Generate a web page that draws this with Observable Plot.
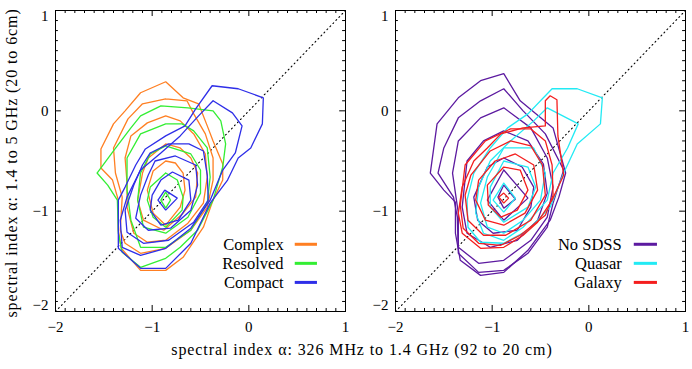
<!DOCTYPE html>
<html><head><meta charset="utf-8">
<script src="https://cdn.jsdelivr.net/npm/d3@7"></script>
<script src="https://cdn.jsdelivr.net/npm/@observablehq/plot@0.6"></script>
<style>
body{margin:0;background:#fff;}
#wrap{position:relative;width:692px;height:369px;font-family:"Liberation Serif","DejaVu Serif",serif;background:#fff;overflow:hidden;}
#wrap svg{position:absolute;top:0;overflow:visible;}
.lab{position:absolute;font-size:16px;letter-spacing:0.9px;color:#000;white-space:nowrap;line-height:1;}
</style></head><body><div id="wrap"></div>
<script>
// Left panel: morphology classes
const complexContours = [
 [[-1.53,-0.38],[-1.53,-0.57],[-1.41,-0.69],[-1.35,-0.89],[-1.35,-1.19],[-1.32,-1.37],[-1.12,-1.59],[-0.86,-1.59],[-0.68,-1.46],[-0.47,-1.16],[-0.37,-0.89],[-0.27,-0.69],[-0.27,-0.53],[-0.37,-0.30],[-0.43,-0.15],[-0.52,0.07],[-0.68,0.13],[-0.86,0.29],[-1.12,0.18],[-1.28,0.00],[-1.40,-0.13]],
 [[-0.86,0.12],[-1.10,0.07],[-1.25,-0.08],[-1.40,-0.37],[-1.38,-0.62],[-1.31,-0.86],[-1.33,-1.19],[-1.28,-1.32],[-1.12,-1.42],[-0.86,-1.37],[-0.60,-1.19],[-0.43,-0.96],[-0.37,-0.69],[-0.37,-0.47],[-0.45,-0.23],[-0.57,-0.03],[-0.64,0.10]],
 [[-0.86,-0.05],[-1.05,-0.12],[-1.22,-0.25],[-1.28,-0.47],[-1.26,-0.72],[-1.26,-0.96],[-1.19,-1.22],[-1.05,-1.31],[-0.86,-1.29],[-0.63,-1.12],[-0.47,-0.92],[-0.43,-0.66],[-0.45,-0.43],[-0.57,-0.23],[-0.71,-0.10]],
 [[-0.86,-0.33],[-1.04,-0.47],[-1.10,-0.62],[-1.15,-0.89],[-1.09,-1.09],[-0.88,-1.19],[-0.68,-1.02],[-0.55,-0.86],[-0.53,-0.62],[-0.60,-0.47],[-0.71,-0.37]],
 [[-0.86,-0.50],[-0.99,-0.60],[-1.05,-0.79],[-0.99,-1.02],[-0.86,-1.14],[-0.71,-0.96],[-0.66,-0.79],[-0.68,-0.62],[-0.76,-0.52]]
];
const resolvedContours = [
 [[-1.57,-0.62],[-1.40,-0.40],[-1.22,-0.17],[-1.12,-0.05],[-0.91,0.05],[-0.63,0.03],[-0.37,0.00],[-0.29,-0.10],[-0.24,-0.33],[-0.27,-0.56],[-0.37,-0.89],[-0.53,-1.19],[-0.71,-1.36],[-0.86,-1.47],[-1.12,-1.56],[-1.31,-1.41],[-1.35,-1.22],[-1.36,-0.89],[-1.46,-0.74]],
 [[-0.86,-0.13],[-1.12,-0.23],[-1.26,-0.47],[-1.26,-0.79],[-1.22,-1.09],[-1.12,-1.36],[-0.86,-1.36],[-0.60,-1.19],[-0.43,-0.92],[-0.40,-0.66],[-0.43,-0.37],[-0.57,-0.20],[-0.69,-0.13]],
 [[-0.86,-0.35],[-1.02,-0.43],[-1.12,-0.62],[-1.15,-0.89],[-1.09,-1.16],[-0.86,-1.22],[-0.63,-1.06],[-0.50,-0.82],[-0.50,-0.59],[-0.60,-0.43]],
 [[-0.86,-0.62],[-1.02,-0.76],[-1.05,-0.89],[-0.99,-1.06],[-0.86,-1.16],[-0.69,-0.99],[-0.68,-0.86],[-0.74,-0.69]],
 [[-0.91,-0.89],[-0.86,-0.81],[-0.81,-0.89],[-0.86,-0.97]]
];
const compactContours = [
 [[-1.35,-0.89],[-1.35,-1.37],[-1.12,-1.57],[-0.86,-1.57],[-0.60,-1.32],[-0.40,-0.92],[-0.22,-0.69],[-0.11,-0.47],[0.02,-0.37],[0.14,-0.13],[0.15,0.13],[-0.11,0.22],[-0.38,0.25],[-0.55,0.02],[-0.66,-0.15],[-0.86,-0.25],[-1.07,-0.38],[-1.17,-0.54],[-1.28,-0.76]],
 [[-0.37,0.10],[-0.17,-0.02],[-0.07,-0.15],[-0.14,-0.42],[-0.27,-0.59],[-0.40,-0.89],[-0.60,-1.17],[-0.86,-1.37],[-1.12,-1.44],[-1.31,-1.36],[-1.33,-1.09],[-1.26,-0.86],[-1.12,-0.59],[-0.91,-0.42],[-0.71,-0.25],[-0.52,-0.05]],
 [[-1.02,-0.42],[-0.83,-0.33],[-0.62,-0.33],[-0.47,-0.40],[-0.43,-0.64],[-0.42,-0.89],[-0.57,-1.11],[-0.83,-1.29],[-1.09,-1.32],[-1.26,-1.21],[-1.28,-0.99],[-1.19,-0.74],[-1.10,-0.54]],
 [[-0.97,-0.50],[-0.76,-0.45],[-0.55,-0.54],[-0.53,-0.74],[-0.60,-0.99],[-0.81,-1.17],[-1.04,-1.19],[-1.17,-1.07],[-1.12,-0.84],[-1.04,-0.64]],
 [[-0.91,-0.69],[-0.79,-0.61],[-0.62,-0.69],[-0.60,-0.89],[-0.73,-1.09],[-0.91,-1.14],[-1.02,-0.99],[-1.00,-0.84]],
 [[-0.94,-0.89],[-0.87,-0.79],[-0.74,-0.87],[-0.86,-0.99]]
];
// Right panel: SDSS classes
const noSdssContours = [
 [[-1.64,-0.62],[-1.57,-0.13],[-1.35,0.13],[-1.12,0.30],[-0.88,0.37],[-0.71,0.10],[-0.37,-0.17],[-0.24,-0.62],[-0.31,-0.86],[-0.40,-1.09],[-0.63,-1.39],[-0.88,-1.61],[-1.12,-1.64],[-1.33,-1.49],[-1.38,-1.22],[-1.38,-0.91],[-1.50,-0.79]],
 [[-1.56,-0.62],[-1.50,-0.37],[-1.35,-0.07],[-1.12,0.10],[-0.88,0.22],[-0.68,0.00],[-0.45,-0.23],[-0.26,-0.59],[-0.37,-0.92],[-0.43,-1.16],[-0.63,-1.42],[-0.88,-1.59],[-1.14,-1.61],[-1.35,-1.42],[-1.36,-1.06],[-1.40,-0.86]],
 [[-1.41,-0.62],[-1.35,-0.30],[-1.12,-0.07],[-0.88,0.03],[-0.60,-0.17],[-0.43,-0.47],[-0.37,-0.76],[-0.43,-1.06],[-0.60,-1.29],[-0.88,-1.49],[-1.14,-1.52],[-1.35,-1.36],[-1.35,-1.02]],
 [[-1.26,-0.50],[-1.09,-0.30],[-0.88,-0.20],[-0.63,-0.30],[-0.47,-0.53],[-0.43,-0.82],[-0.53,-1.09],[-0.74,-1.29],[-1.02,-1.36],[-1.26,-1.22],[-1.31,-0.96]],
 [[-1.05,-0.56],[-0.88,-0.47],[-0.69,-0.56],[-0.57,-0.76],[-0.60,-0.96],[-0.74,-1.19],[-0.99,-1.22],[-1.15,-1.09],[-1.19,-0.86]],
 [[-0.88,-0.59],[-0.63,-0.87],[-0.88,-1.09],[-1.05,-0.89]],
 [[-0.94,-0.86],[-0.88,-0.74],[-0.76,-0.88],[-0.88,-0.97]]
];
const quasarContours = [
 [[-0.38,0.22],[-0.12,0.22],[0.14,0.13],[0.12,-0.13],[-0.12,-0.33],[-0.26,-0.62],[-0.40,-0.96],[-0.63,-1.19],[-0.88,-1.32],[-1.12,-1.31],[-1.25,-1.16],[-1.26,-0.89],[-1.19,-0.62],[-1.02,-0.37],[-0.84,-0.17],[-0.63,-0.03],[-0.47,0.13]],
 [[-0.43,0.03],[-0.11,-0.13],[-0.22,-0.37],[-0.37,-0.62],[-0.43,-0.89],[-0.68,-1.16],[-0.88,-1.29],[-1.09,-1.22],[-1.17,-1.02],[-1.14,-0.76],[-1.02,-0.50],[-0.81,-0.30],[-0.57,-0.10]],
 [[-0.88,-0.37],[-0.57,-0.37],[-0.45,-0.62],[-0.50,-0.89],[-0.68,-1.09],[-0.88,-1.22],[-1.05,-1.16],[-1.12,-0.92],[-1.05,-0.66]],
 [[-0.88,-0.50],[-0.63,-0.56],[-0.55,-0.76],[-0.63,-0.96],[-0.88,-1.11],[-1.02,-0.96],[-1.02,-0.76]],
 [[-0.88,-0.72],[-0.76,-0.87],[-0.88,-1.01],[-0.99,-0.89]]
];
const galaxyContours = [
 [[-0.45,-0.15],[-0.45,0.10],[-0.40,0.15],[-0.33,0.11],[-0.32,-0.25],[-0.26,-0.64],[-0.38,-0.89],[-0.53,-1.11],[-0.68,-1.24],[-0.88,-1.36],[-1.12,-1.37],[-1.31,-1.22],[-1.35,-1.02],[-1.31,-0.76],[-1.19,-0.50],[-1.05,-0.37],[-0.91,-0.23],[-0.68,-0.17]],
 [[-1.28,-0.54],[-1.07,-0.30],[-0.81,-0.18],[-0.60,-0.18],[-0.45,-0.30],[-0.38,-0.54],[-0.37,-0.84],[-0.45,-1.04],[-0.71,-1.24],[-0.91,-1.34],[-1.14,-1.32],[-1.30,-1.17],[-1.33,-0.94]],
 [[-1.22,-0.64],[-1.02,-0.40],[-0.81,-0.30],[-0.60,-0.35],[-0.48,-0.54],[-0.45,-0.84],[-0.60,-1.09],[-0.86,-1.24],[-1.09,-1.24],[-1.25,-1.09],[-1.28,-0.84]],
 [[-1.14,-0.69],[-0.97,-0.50],[-0.76,-0.43],[-0.57,-0.54],[-0.53,-0.79],[-0.66,-1.02],[-0.88,-1.14],[-1.07,-1.09],[-1.17,-0.89]],
 [[-1.05,-0.74],[-0.88,-0.56],[-0.71,-0.59],[-0.63,-0.79],[-0.74,-0.99],[-0.91,-1.06],[-1.04,-0.94]],
 [[-0.93,-0.86],[-0.88,-0.82],[-0.83,-0.87],[-0.88,-0.92]]
];

const leftNames = ["Complex", "Resolved", "Compact"];
const leftColors = ["#ff7f22", "#33ee33", "#2e2ee8"];
const rightNames = ["No SDSS", "Quasar", "Galaxy"];
const rightColors = ["#5c1aa0", "#22eaf4", "#f41e1e"];
const majorTicks = [-2, -1, 0, 1];
const minorTicks = d3.range(-20, 11).filter(i => i % 10 !== 0).map(i => i / 10);
const legendRows = [-1.33, -1.52, -1.71];
const diagonal = [[-2, -2], [1, 1]];
const xTitle = "spectral index α: 326 MHz to 1.4 GHz (92 to 20 cm)";
const yTitle = "spectral index α: 1.4 to 5 GHz (20 to 6cm)";

const fmt = d => (d < 0 ? "\u2212" + Math.abs(d) : String(d));

function rowsFor(names, sets) {
  const out = [];
  names.forEach((name, s) => {
    sets[s].forEach((poly, k) => {
      [...poly, poly[0]].forEach(([x, y]) => out.push({x, y, series: name, id: name + "-" + k}));
    });
  });
  return out;
}

function panel(names, colors, sets, marginLeft, marginRight, legTextX, legX1, legX2) {
  const rows = rowsFor(names, sets);
  const tickMarks = (vals, len) => [
    Plot.ruleX(vals, {x: d => d, y1: -2, y2: -2 + len, stroke: "black"}),
    Plot.ruleX(vals, {x: d => d, y1: 1, y2: 1 - len, stroke: "black"}),
    Plot.ruleY(vals, {y: d => d, x1: -2, x2: -2 + len, stroke: "black"}),
    Plot.ruleY(vals, {y: d => d, x1: 1, x2: 1 - len, stroke: "black"})
  ];
  const yLab = (vals, dy) => Plot.text(vals, {y: d => d, frameAnchor: "left", dx: -7, dy, textAnchor: "end", text: fmt, fontSize: 15, fill: "black"});
  return Plot.plot({
    width: 346, height: 369,
    marginLeft, marginRight, marginTop: 10, marginBottom: 58,
    style: {fontFamily: "Liberation Serif, DejaVu Serif, serif", fontSize: "15px", color: "black", background: "transparent", overflow: "visible"},
    x: {domain: [-2, 1], axis: null},
    y: {domain: [-2, 1], axis: null},
    color: {domain: names, range: colors},
    marks: [
      ...tickMarks(minorTicks, 0.03),
      ...tickMarks(majorTicks, 0.06),
      Plot.text(majorTicks, {x: d => d, frameAnchor: "bottom", dy: 20, text: fmt, fontSize: 15, fill: "black"}),
      yLab([1], 6), yLab([0, -1], 0), yLab([-2], -6),
      Plot.line(diagonal, {x: d => d[0], y: d => d[1], stroke: "black", strokeWidth: 1.1, strokeDasharray: "1,3.3"}),
      Plot.line(rows, {x: "x", y: "y", z: "id", stroke: "series", strokeWidth: 1.3, strokeLinejoin: "miter"}),
      Plot.text(names, {x: () => legTextX, y: (d, i) => legendRows[i], text: d => d, textAnchor: "end", fontSize: 16.5, fill: "black"}),
      Plot.ruleY(names, {y: (d, i) => legendRows[i], x1: legX1, x2: legX2, stroke: d => d, strokeWidth: 3}),
      Plot.frame({stroke: "black"})
    ]
  });
}

const wrap = document.getElementById("wrap");
const right = panel(rightNames, rightColors, [noSdssContours, quasarContours, galaxyContours], 49, 7, 0.34, 0.47, 0.71);
right.style.left = "346px";
const left = panel(leftNames, leftColors, [complexContours, resolvedContours, compactContours], 55, 1, 0.36, 0.48, 0.71);
left.style.left = "0px";
wrap.appendChild(right);
wrap.appendChild(left);

const xl = document.createElement("div");
xl.className = "lab";
xl.style.cssText = "left:362px;top:350px;transform:translate(-50%,-50%);";
xl.textContent = xTitle;
wrap.appendChild(xl);
const yl = document.createElement("div");
yl.className = "lab";
yl.style.cssText = "left:12px;top:163px;transform:translate(-50%,-50%) rotate(-90deg);";
yl.textContent = yTitle;
wrap.appendChild(yl);
</script>
</body></html>
